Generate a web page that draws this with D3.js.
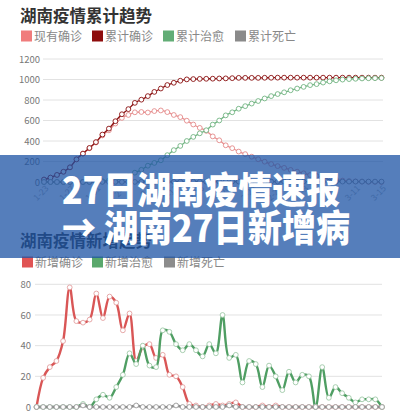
<!DOCTYPE html>
<html>
<head>
<meta charset="utf-8">
<script src="https://cdn.jsdelivr.net/npm/d3@7"></script>
<style>
  body { margin: 0; background: #fff; }
  svg { display: block; }
</style>
</head>
<body>
<div id="chart"></div>
<script>
// dates 1-23 .. 3-15
const dates = ["1-23","1-24","1-25","1-26","1-27","1-28","1-29","1-30","1-31",
  "2-1","2-2","2-3","2-4","2-5","2-6","2-7","2-8","2-9","2-10","2-11","2-12","2-13","2-14","2-15",
  "2-16","2-17","2-18","2-19","2-20","2-21","2-22","2-23","2-24","2-25","2-26","2-27","2-28","2-29",
  "3-1","3-2","3-3","3-4","3-5","3-6","3-7","3-8","3-9","3-10","3-11","3-12","3-13","3-14","3-15"];
const tickDates = ["1-23","1-27","1-31","2-4","2-8","2-12","2-16","2-20","2-24","2-28","3-3","3-7","3-11","3-15"];

const topTicks = [0, 200, 400, 600, 800, 1000, 1200];
const bottomTicks = [0, 20, 40, 60, 80];

const topLegend = ["现有确诊", "累计确诊", "累计治愈", "累计死亡"];
const bottomLegend = ["新增确诊", "新增治愈", "新增死亡"];

const currentConfirmed = [24,43,69,100,143,221,277,329,385,454,504,570,625,654,680,683,678,692,698,682,
  654,633,598,561,528,499,445,407,358,330,297,272,247,222,198,175,155,138,118,101,85,68,58,43,31,21,14,9,6,4,2,1,0];
const totalConfirmed = [24,43,69,100,143,221,277,332,389,463,521,593,661,711,772,803,838,879,912,946,
  968,988,1001,1004,1006,1007,1008,1010,1011,1013,1016,1016,1016,1016,1017,1017,1018,1018,1018,1018,
  1018,1018,1018,1018,1018,1018,1018,1018,1018,1018,1018,1018,1018];
const totalCured = [0,0,0,0,0,0,0,2,3,8,16,22,35,56,91,119,159,186,212,262,311,352,400,440,475,505,
  560,600,650,680,715,740,765,790,815,838,858,875,895,912,928,945,955,970,982,992,999,1004,1007,1010,1012,1013,1014];
const totalDeaths = [0,0,0,0,0,0,0,1,1,1,1,1,1,1,1,2,2,2,2,2,2,3,3,3,3,3,3,3,3,4,4,4,4,4,4,4,4,4,4,4,
  4,4,4,4,4,4,4,4,4,4,4,4,4];

const newConfirmed = [0,19,26,30,43,78,56,55,57,74,58,72,68,50,61,30,39,41,32,34,21,20,13,2,1,
  0,1,2,1,2,3,0,0,0,1,0,1,0,0,0,0,0,0,0,0,0,0,0,0,0,0,0,0];
const newCured = [0,0,0,0,0,0,0,2,0,5,8,6,13,21,35,28,40,27,26,50,49,41,37,41,37,33,41,35,60,32,
  34,16,30,28,13,27,20,11,23,16,21,20,0,26,6,13,9,6,3,5,5,5,0];
const newDeaths = [0,0,0,0,0,0,0,1,0,0,0,0,0,0,0,1,0,0,0,0,0,1,0,0,0,0,0,0,0,1,0,0,0,0,0,0,0,0,0,0,
  0,0,0,0,0,0,0,0,0,0,0,0,0];

const font = '"Noto Sans CJK SC", "Noto Sans", sans-serif';

const svg = d3.select("#chart").append("svg")
  .attr("width", 400)
  .attr("height", 415)
  .style("font-family", font);

function drawPanel(p) {
  const g = svg.append("g");

  g.append("text")
    .attr("x", 20).attr("y", p.titleY)
    .attr("font-size", 16.5).attr("font-weight", 700).attr("fill", "#333")
    .text(p.title);

  const leg = g.selectAll(".leg").data(p.series).enter().append("g")
    .attr("transform", (d, i) => `translate(${p.legendX[i]},${p.legendY})`);
  leg.append("rect").attr("width", 11).attr("height", 11).attr("fill", d => d.legend);
  leg.append("text").attr("x", 13).attr("y", 10)
    .attr("font-size", 12).attr("fill", "#888")
    .text(d => d.name);

  const x = d3.scalePoint().domain(dates).range(p.xRange);
  const y = d3.scaleLinear().domain([0, p.yTicks[p.yTicks.length - 1]]).range(p.yRange);

  g.selectAll(".grid").data(p.yTicks).enter().append("line")
    .attr("x1", p.gridX[0]).attr("x2", p.gridX[1])
    .attr("y1", d => y(d)).attr("y2", d => y(d))
    .attr("stroke", "#e2e2e2").attr("stroke-width", 1);

  const yAxis = g.append("g")
    .attr("transform", `translate(${p.labelX},0)`)
    .call(d3.axisLeft(y).tickValues(p.yTicks).tickFormat(d3.format("d")).tickSize(0).tickPadding(0));
  yAxis.select(".domain").remove();
  yAxis.selectAll("text").attr("font-size", 9.5).attr("fill", "#777").style("font-family", font);

  if (p.showX) {
    const xAxis = g.append("g")
      .attr("transform", `translate(0,${p.yRange[0]})`)
      .call(d3.axisBottom(x).tickValues(tickDates).tickSize(0).tickPadding(4));
    xAxis.select(".domain").remove();
    xAxis.selectAll("text")
      .attr("font-size", 8.5).attr("fill", "#aaa").style("font-family", font)
      .attr("text-anchor", "end")
      .attr("transform", "rotate(-45)")
      .attr("dx", "-0.2em").attr("dy", "0.5em");
  }

  const line = d3.line()
    .x((d, i) => x(dates[i]))
    .y(d => y(d))
    .curve(p.curve);

  p.series.forEach(s => {
    g.append("path").datum(s.values)
      .attr("d", line)
      .attr("fill", "none")
      .attr("stroke", s.color)
      .attr("stroke-width", p.lineWidth);
    g.selectAll(null).data(s.values).enter().append("circle")
      .attr("cx", (d, i) => x(dates[i]))
      .attr("cy", d => y(d))
      .attr("r", p.r)
      .attr("fill", "#fff")
      .attr("stroke", s.dot)
      .attr("stroke-width", 0.9);
  });
}

drawPanel({
  title: "湖南疫情累计趋势", titleY: 22,
  legendX: [21, 92, 163, 235], legendY: 30.5,
  xRange: [44, 381.5], yRange: [182, 59], gridX: [43, 383], labelX: 40,
  yTicks: topTicks, showX: true, lineWidth: 1.3, r: 2.4,
  curve: d3.curveMonotoneX,
  series: [
    { name: topLegend[0], values: currentConfirmed, color: "#e89090", dot: "#e48a8a", legend: "#f07c7c" },
    { name: topLegend[1], values: totalConfirmed, color: "#8a1010", dot: "#8a1010", legend: "#8e0c0c" },
    { name: topLegend[2], values: totalCured, color: "#72b482", dot: "#72b482", legend: "#62ad76" },
    { name: topLegend[3], values: totalDeaths, color: "#8a8a8a", dot: "#8a8a8a", legend: "#8a8a8a" }
  ]
});

drawPanel({
  title: "湖南疫情新增趋势", titleY: 247,
  legendX: [22, 92, 164], legendY: 256.5,
  xRange: [36.5, 382], yRange: [407, 284.3], gridX: [35, 382], labelX: 31,
  yTicks: bottomTicks, showX: false, lineWidth: 2.4, r: 2.4,
  curve: d3.curveCatmullRom.alpha(0.5),
  series: [
    { name: bottomLegend[0], values: newConfirmed, color: "#d95656", dot: "#e3a0a0", legend: "#e05454" },
    { name: bottomLegend[1], values: newCured, color: "#4f9e63", dot: "#9fc9a8", legend: "#5aa86c" },
    { name: bottomLegend[2], values: newDeaths, color: "#8c8c8c", dot: "#9a9a9a", legend: "#8c8c8c" }
  ]
});

// overlay banner
const banner = svg.append("g");
banner.append("rect")
  .attr("x", 0).attr("y", 155).attr("width", 400).attr("height", 103)
  .attr("fill", "rgb(28,83,164)").attr("fill-opacity", 0.75);

const bannerLines = ["27日湖南疫情速报", "→ 湖南27日新增病"];
const bannerWidths = [278, 288];
banner.selectAll(".bl").data(bannerLines).enter().append("text")
  .attr("x", 62)
  .attr("y", (d, i) => 204 + i * 38)
  .attr("font-size", 37)
  .attr("font-weight", 900)
  .attr("fill", "#fff")
  .attr("textLength", (d, i) => bannerWidths[i])
  .attr("lengthAdjust", "spacingAndGlyphs")
  .text(d => d);
</script>
</body>
</html>
